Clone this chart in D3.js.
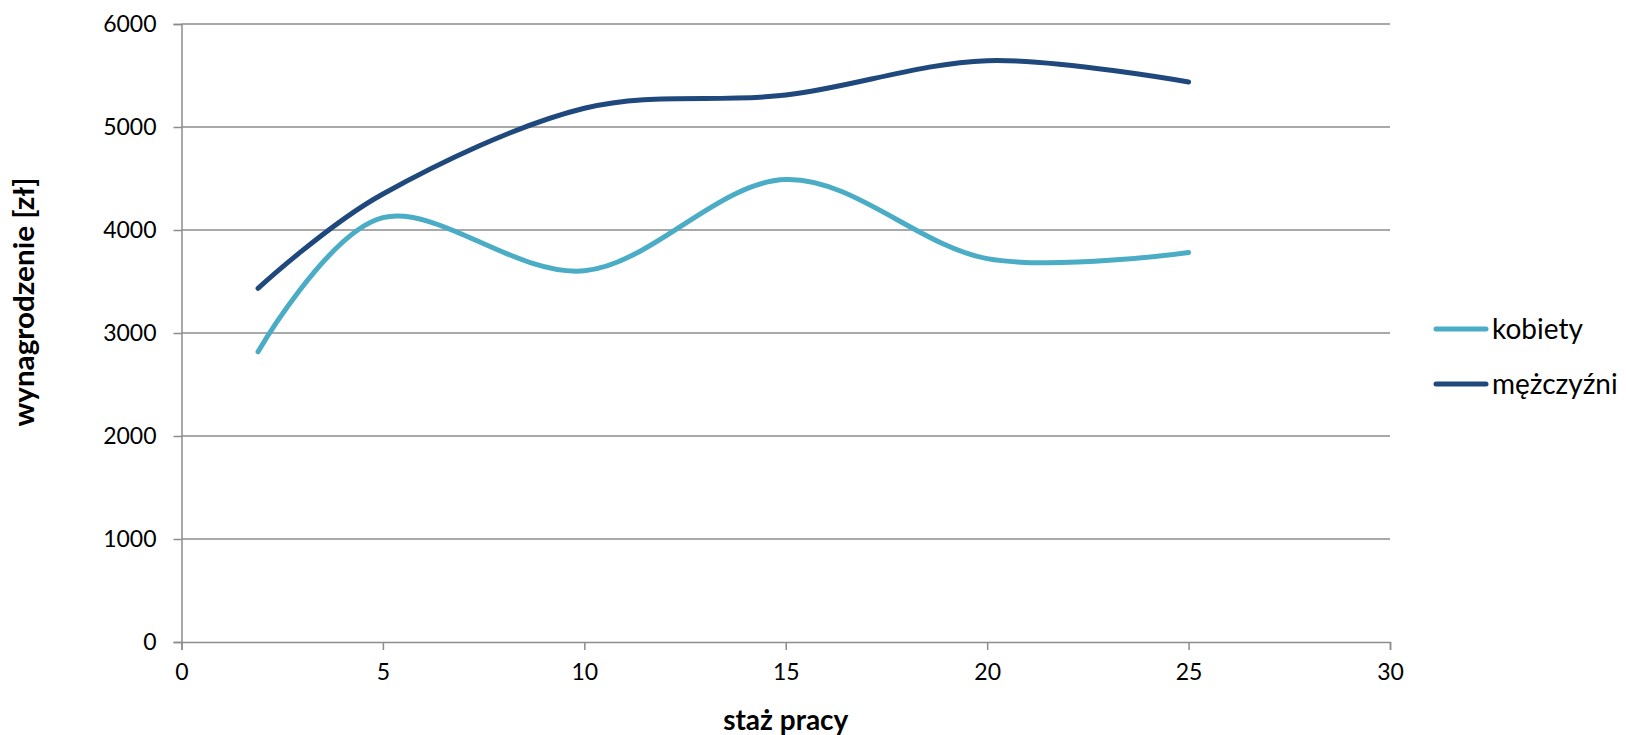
<!DOCTYPE html>
<html>
<head>
<meta charset="utf-8">
<script src="https://cdn.jsdelivr.net/npm/d3@7"></script>
<style>
  html, body { margin: 0; padding: 0; background: #fff; }
  svg { display: block; font-family: Lato, "Open Sans", sans-serif; }
</style>
</head>
<body>
<svg id="chart" width="1626" height="735"></svg>
<script>
// ---- data ----
const stazPracy = [1.9, 5, 10, 15, 20, 25];
const kobiety = [2817, 4120, 3604, 4490, 3722, 3782];
const mezczyzni = [3433, 4350, 5182, 5310, 5644, 5437];
const seriesNames = ["kobiety", "mężczyźni"];
const seriesColors = ["#4BACC6", "#1F497D"];
const xTicks = [0, 5, 10, 15, 20, 25, 30];
const yTicks = [0, 1000, 2000, 3000, 4000, 5000, 6000];
const xTitle = "staż pracy";
const yTitle = "wynagrodzenie [zł]";

// ---- layout ----
const padL = 181.5, padR = 1390, padT = 24, padB = 642;
const svg = d3.select("#chart");
const x = d3.scaleLinear().domain([0, 30]).range([padL, padR]);
const y = d3.scaleLinear().domain([0, 6000]).range([padB, padT]);
const grid = "#8c8c8c";

// gridlines
svg.append("g").selectAll("line").data(yTicks.filter(d => d > 0)).join("line")
  .attr("x1", padL).attr("x2", padR)
  .attr("y1", d => y(d)).attr("y2", d => y(d))
  .attr("stroke", grid).attr("stroke-width", 1.5);

// y axis
const yAxis = svg.append("g").attr("transform", `translate(${padL},0)`)
  .call(d3.axisLeft(y).tickValues(yTicks).tickSize(8).tickPadding(17).tickFormat(d3.format("d")));
yAxis.select(".domain").attr("stroke", grid).attr("stroke-width", 1.5);
yAxis.selectAll(".tick line").attr("stroke", grid).attr("stroke-width", 1.5);
yAxis.selectAll(".tick text").attr("font-family", "Lato").attr("font-size", 23).attr("fill", "#000");

// x axis
const xAxis = svg.append("g").attr("transform", `translate(0,${padB})`)
  .call(d3.axisBottom(x).tickValues(xTicks).tickSize(8).tickPadding(14).tickFormat(d3.format("d")));
xAxis.select(".domain").attr("stroke", grid).attr("stroke-width", 1.5);
xAxis.selectAll(".tick line").attr("stroke", grid).attr("stroke-width", 1.5);
xAxis.selectAll(".tick text").attr("font-family", "Lato").attr("font-size", 23).attr("fill", "#000");

// lines
const line = d3.line().x(d => x(d[0])).y(d => y(d[1])).curve(d3.curveCardinal.tension(0));
[kobiety, mezczyzni].forEach((vals, i) => {
  svg.append("path")
    .datum(stazPracy.map((s, j) => [s, vals[j]]))
    .attr("d", line)
    .attr("fill", "none")
    .attr("stroke", seriesColors[i])
    .attr("stroke-width", 5)
    .attr("stroke-linecap", "round")
    .attr("stroke-linejoin", "round");
});

// axis titles
svg.append("text")
  .attr("x", (padL + padR) / 2).attr("y", 730)
  .attr("text-anchor", "middle")
  .attr("font-weight", "bold").attr("font-size", 28)
  .text(xTitle);
svg.append("text")
  .attr("transform", `translate(34,302) rotate(-90)`)
  .attr("text-anchor", "middle")
  .attr("font-weight", "bold").attr("font-size", 29)
  .attr("textLength", 249).attr("lengthAdjust", "spacingAndGlyphs")
  .text(yTitle);

// legend
const legend = svg.append("g");
seriesNames.forEach((name, i) => {
  const ly = 329 + i * 55;
  legend.append("line")
    .attr("x1", 1436).attr("x2", 1486).attr("y1", ly).attr("y2", ly)
    .attr("stroke", seriesColors[i]).attr("stroke-width", 5).attr("stroke-linecap", "round");
  legend.append("text")
    .attr("x", 1492).attr("y", ly + 10)
    .attr("font-size", 28).attr("fill", "#000")
    .text(name);
});
</script>
</body>
</html>
